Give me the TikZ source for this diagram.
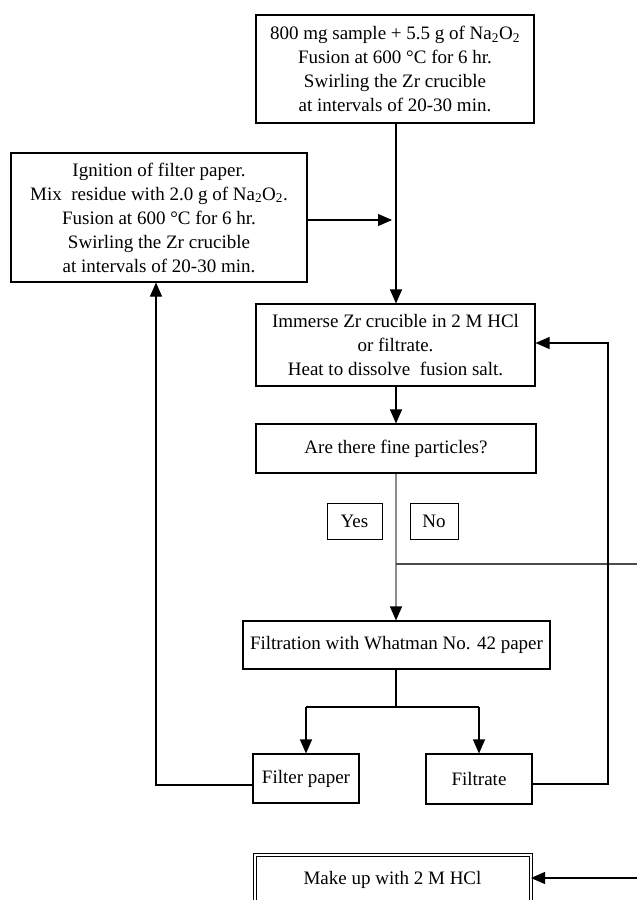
\documentclass[tikz,border=0pt]{standalone}
\usepackage{fontspec}
\setmainfont{Liberation Serif}
\usetikzlibrary{arrows.meta}
\begin{document}
\begin{tikzpicture}[x=1pt,y=-1pt,
  box/.style={draw,line width=1.1pt,align=center,inner sep=0pt,font=\fontsize{19}{24}\selectfont},
  arr/.style={line width=1.1pt,-{Triangle[length=14pt,width=12pt,color=black]}},
  ln/.style={line width=1.1pt}]
\useasboundingbox (0,0) rectangle (637,900);
\clip (0,0) rectangle (637,900);
\fill[white] (0,0) rectangle (637,900);
\node[box,minimum width=278,minimum height=108] (top) at (395,69)
  {800 mg sample + 5.5 g of Na\textsubscript{2}O\textsubscript{2}\\Fusion at 600 °C for 6 hr.\\Swirling the Zr crucible\\at intervals of 20-30 min.};
\node[box,minimum width=296,minimum height=129] (left) at (159,217.5)
  {Ignition of filter paper.\\Mix\ \ residue with 2.0 g of Na\textsubscript{2}O\textsubscript{2}.\\Fusion at 600 °C for 6 hr.\\Swirling the Zr crucible\\at intervals of 20-30 min.};
\node[box,minimum width=279,minimum height=82] (imm) at (395.5,345)
  {Immerse Zr crucible in 2 M HCl\\or filtrate.\\Heat to dissolve\ \ fusion salt.};
\node[box,minimum width=280,minimum height=49] (are) at (396,448.5) {Are there fine particles?};
\node[box,line width=0.9pt,minimum width=55,minimum height=36] (yes) at (354.5,521) {Yes};
\node[box,line width=0.9pt,minimum width=48,minimum height=36] (no) at (434,521) {No};
\node[box,minimum width=307,minimum height=48] (filt) at (396.5,645) {Filtration with Whatman No. 42 paper};
\node[box,minimum width=106,minimum height=49] (fp) at (306,778.5) {Filter paper};
\node[box,minimum width=106,minimum height=50] (fr) at (479,779) {Filtrate};
\node[box,double,double distance=2pt,line width=1pt,minimum width=276,minimum height=50] (mk) at (392.5,880) {Make up with 2 M HCl};
% coordinates
\coordinate (j1) at (396,220);
\coordinate (nb) at (396,564);
\coordinate (ne) at (637,564);
\coordinate (sp) at (396,707);
\coordinate (spl) at (306,707);
\coordinate (spr) at (479,707);
\coordinate (fpl) at (156,785);
\coordinate (frr) at (608,784);
\coordinate (frt) at (608,343);
\coordinate (me) at (637,878);
% connectors
\draw[arr] (top.south -| j1) -- (imm.north -| j1);
\draw[arr] (left.east |- j1) -- ([xshift=-4pt]j1);
\draw[arr] (imm.south -| j1) -- (are.north -| j1);
\draw[arr,draw=black!45] (are.south -| j1) -- (filt.north -| j1);
\draw[ln,draw=black!70] (nb) -- (ne);
\draw[ln] (filt.south -| sp) -- (sp);
\draw[ln] (spl) -- (spr);
\draw[arr] (spl) -- (fp.north);
\draw[arr] (spr) -- (fr.north);
\draw[arr] (fp.west |- fpl) -- (fpl) -- (left.south -| fpl);
\draw[arr] (fr.east |- frr) -- (frr) -- (frt) -- (imm.east |- frt);
\draw[arr] (me) -- (mk.east |- me);
\end{tikzpicture}
\end{document}
